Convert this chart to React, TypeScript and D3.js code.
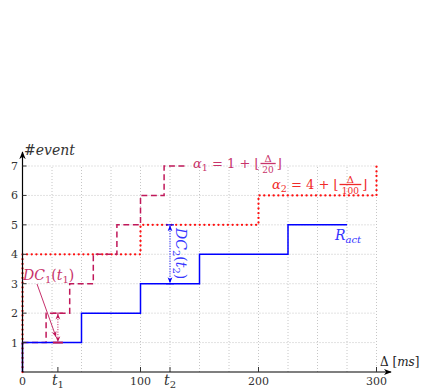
import React, { useRef, useEffect } from 'react';
import * as d3 from 'd3';

// step curves: [delta, events]
const ractPts = [[0, 0], [0, 1], [50, 2], [100, 3], [150, 4], [225, 5], [275, 5]];
const alpha1Pts = [[0, 1], [20, 2], [40, 3], [60, 4], [80, 5], [100, 6], [120, 7], [140, 7]];
const alpha2Pts = [[0, 0], [0, 4], [100, 5], [200, 6], [300, 7]];

const xGrid = [25, 50, 75, 100, 125, 150, 175, 200, 225, 250, 275, 300];
const yTicks = [1, 2, 3, 4, 5, 6, 7];
const xTicks = [
  { v: 0, label: '0', it: false, sub: '' },
  { v: 30, label: 't', it: true, sub: '1' },
  { v: 100, label: '100', it: false, sub: '' },
  { v: 125, label: 't', it: true, sub: '2' },
  { v: 200, label: '200', it: false, sub: '' },
  { v: 300, label: '300', it: false, sub: '' },
];
// distances marked on the chart: [delta, from, to]
const dc1 = [30, 1, 2];
const dc2 = [125, 3, 5];

const BLUE = '#0000ff';
const CRIMSON = '#c0185a';
const RED = '#ff1010';
const FONT = 'DejaVu Serif, serif';

function App() {
  const ref = useRef<SVGSVGElement>(null);

  useEffect(() => {
    const svg = d3.select(ref.current);
    svg.selectAll('*').remove();

    const x = d3.scaleLinear().domain([0, 300]).range([22.5, 376.5]);
    const y = d3.scaleLinear().domain([0, 7]).range([372, 166]);

    const defs = svg.append('defs');
    const mk = (id, color, size) => {
      defs.append('marker')
        .attr('id', id).attr('viewBox', '0 0 10 10')
        .attr('refX', 9).attr('refY', 5)
        .attr('markerWidth', size).attr('markerHeight', size)
        .attr('markerUnits', 'userSpaceOnUse')
        .attr('orient', 'auto-start-reverse')
        .append('path').attr('d', 'M0,1 L10,5 L0,9 L3,5 Z').attr('fill', color);
    };
    mk('arrK', '#000', 8);
    mk('arrC', CRIMSON, 6);
    mk('arrB', BLUE, 6);

    // grid
    const g = svg.append('g').attr('stroke', '#b8b8b8').attr('stroke-width', 0.8)
      .attr('stroke-dasharray', '1,2');
    g.selectAll('line.v').data(xGrid).join('line').attr('class', 'v')
      .attr('x1', d => x(d)).attr('x2', d => x(d)).attr('y1', y(0)).attr('y2', y(7));
    g.selectAll('line.h').data(yTicks).join('line').attr('class', 'h')
      .attr('x1', x(0)).attr('x2', x(300)).attr('y1', d => y(d)).attr('y2', d => y(d));

    const line = d3.line().x(d => x(d[0])).y(d => y(d[1])).curve(d3.curveStepAfter);

    svg.append('path').datum(alpha2Pts).attr('d', line).attr('fill', 'none')
      .attr('stroke', RED).attr('stroke-width', 2.3).attr('stroke-linecap', 'round')
      .attr('stroke-dasharray', '0.1,4.6');
    svg.append('path').datum(alpha1Pts).attr('d', line).attr('fill', 'none')
      .attr('stroke', CRIMSON).attr('stroke-width', 1.5).attr('stroke-dasharray', '6,3.5');
    svg.append('path').datum(ractPts).attr('d', line).attr('fill', 'none')
      .attr('stroke', BLUE).attr('stroke-width', 1.5);

    // axes
    svg.append('line').attr('x1', x(0)).attr('x2', x(0)).attr('y1', y(0)).attr('y2', 152)
      .attr('stroke', '#000').attr('stroke-width', 1.2).attr('marker-end', 'url(#arrK)');
    svg.append('line').attr('x1', x(0)).attr('x2', 391).attr('y1', y(0)).attr('y2', y(0))
      .attr('stroke', '#000').attr('stroke-width', 1.2).attr('marker-end', 'url(#arrK)');

    // y ticks
    svg.selectAll('line.yt').data(yTicks).join('line').attr('class', 'yt')
      .attr('x1', x(0)).attr('x2', x(0) + 4).attr('y1', d => y(d)).attr('y2', d => y(d))
      .attr('stroke', '#333').attr('stroke-width', 1);
    svg.selectAll('text.yl').data(yTicks).join('text').attr('class', 'yl')
      .attr('x', 18).attr('y', d => y(d) + 4).attr('text-anchor', 'end')
      .attr('font-family', FONT).attr('font-size', 11).attr('fill', '#333').text(d => d);

    // x ticks
    svg.selectAll('line.xt').data(xTicks.filter(d => d.v > 0)).join('line').attr('class', 'xt')
      .attr('x1', d => x(d.v)).attr('x2', d => x(d.v)).attr('y1', y(0)).attr('y2', y(0) - 5)
      .attr('stroke', '#333').attr('stroke-width', 1);
    const xl = svg.selectAll('text.xl').data(xTicks).join('text').attr('class', 'xl')
      .attr('x', d => x(d.v)).attr('y', 385).attr('text-anchor', 'middle')
      .attr('font-family', FONT).attr('font-size', d => d.it ? 14 : 11).attr('fill', '#333');
    xl.append('tspan').attr('font-style', d => d.it ? 'italic' : 'normal').text(d => d.label);
    xl.filter(d => d.sub).append('tspan').attr('font-size', 10).attr('dy', 3).text(d => d.sub);

    // axis labels
    svg.append('text').attr('x', 24).attr('y', 155).attr('font-family', FONT)
      .attr('font-size', 14).attr('font-style', 'italic').attr('fill', '#333').text('#event');
    const dl = svg.append('text').attr('x', 380).attr('y', 366).attr('font-family', FONT)
      .attr('font-size', 12).attr('fill', '#222');
    dl.append('tspan').text('Δ [');
    dl.append('tspan').attr('font-style', 'italic').text('ms');
    dl.append('tspan').text(']');

    // alpha labels: "α_i = k + ⌊Δ/d⌋"
    const alphaLabel = (x0, y0, idx, k, den, color) => {
      const t = svg.append('g').attr('fill', color).attr('font-family', FONT);
      const tx = t.append('text').attr('x', x0).attr('y', y0).attr('font-size', 13);
      tx.append('tspan').attr('font-style', 'italic').text('α');
      tx.append('tspan').attr('font-size', 9.5).attr('dy', 3).text(idx);
      tx.append('tspan').attr('dy', -3).text(` = ${k} + ⌊`);
      const w = (tx.node() as SVGTextElement).getComputedTextLength();
      const hw = den.length * 3.3 + 1;
      const fx = x0 + w + hw + 1;
      t.append('text').attr('x', fx).attr('y', y0 - 6).attr('text-anchor', 'middle')
        .attr('font-size', 10).text('Δ');
      t.append('line').attr('x1', fx - hw).attr('x2', fx + hw).attr('y1', y0 - 4.5).attr('y2', y0 - 4.5)
        .attr('stroke', color).attr('stroke-width', 1.3);
      t.append('text').attr('x', fx).attr('y', y0 + 4.5).attr('text-anchor', 'middle')
        .attr('font-size', 9).text(den);
      t.append('text').attr('x', fx + hw + 1).attr('y', y0).attr('font-size', 13).text('⌋');
    };
    alphaLabel(193, 168, '1', 1, '20', '#c8336a');
    alphaLabel(272, 189, '2', 4, '100', '#f02a2a');

    // R_act
    const rl = svg.append('text').attr('x', 335).attr('y', 240).attr('font-family', FONT)
      .attr('font-size', 14).attr('font-style', 'italic').attr('fill', '#3535ff');
    rl.append('tspan').text('R');
    rl.append('tspan').attr('font-size', 10).attr('dy', 3).text('act');

    // DC1 at t1
    const [t1, a1, b1] = dc1;
    svg.append('line').attr('x1', x(t1)).attr('x2', x(t1)).attr('y1', y(b1) + 1).attr('y2', y(a1) - 1)
      .attr('stroke', CRIMSON).attr('stroke-width', 1).attr('stroke-dasharray', '1,1.5')
      .attr('marker-start', 'url(#arrC)').attr('marker-end', 'url(#arrC)');
    svg.append('line').attr('x1', x(t1) - 5).attr('x2', x(t1) + 5).attr('y1', y(a1)).attr('y2', y(a1))
      .attr('stroke', CRIMSON).attr('stroke-width', 2);
    svg.append('line').attr('x1', x(t1) - 5).attr('x2', x(t1) + 5).attr('y1', y(b1)).attr('y2', y(b1))
      .attr('stroke', CRIMSON).attr('stroke-width', 1);
    const d1 = svg.append('text').attr('x', 23).attr('y', 280).attr('font-family', FONT)
      .attr('font-size', 14).attr('fill', '#c8336a');
    d1.append('tspan').attr('font-style', 'italic').text('DC');
    d1.append('tspan').attr('font-size', 10).attr('dy', 3).text('1');
    d1.append('tspan').attr('dy', -3).text('(');
    d1.append('tspan').attr('font-style', 'italic').text('t');
    d1.append('tspan').attr('font-size', 10).attr('dy', 3).text('1');
    d1.append('tspan').attr('dy', -3).text(')');
    svg.append('line').attr('x1', 37).attr('y1', 284).attr('x2', x(t1) - 2).attr('y2', y(a1) - 6)
      .attr('stroke', CRIMSON).attr('stroke-width', 0.9).attr('marker-end', 'url(#arrC)');

    // DC2 at t2
    const [t2, a2, b2] = dc2;
    svg.append('line').attr('x1', x(t2)).attr('x2', x(t2)).attr('y1', y(b2) + 1).attr('y2', y(a2) - 1)
      .attr('stroke', BLUE).attr('stroke-width', 1).attr('stroke-dasharray', '1,1.5')
      .attr('marker-start', 'url(#arrB)').attr('marker-end', 'url(#arrB)');
    [a2, b2].forEach(v => {
      svg.append('line').attr('x1', x(t2) - 4).attr('x2', x(t2) + 4).attr('y1', y(v)).attr('y2', y(v))
        .attr('stroke', BLUE).attr('stroke-width', 1.2);
    });
    const d2 = svg.append('text').attr('transform', `translate(${x(t2) + 6},228) rotate(90)`)
      .attr('font-family', FONT).attr('font-size', 14).attr('fill', '#3535ff');
    d2.append('tspan').attr('font-style', 'italic').text('DC');
    d2.append('tspan').attr('font-size', 10).attr('dy', 3).text('2');
    d2.append('tspan').attr('dy', -3).text('(');
    d2.append('tspan').attr('font-style', 'italic').text('t');
    d2.append('tspan').attr('font-size', 10).attr('dy', 3).text('2');
    d2.append('tspan').attr('dy', -3).text(')');
  }, []);

  return <svg ref={ref} width={421} height={392} style={{ display: 'block', position: 'absolute', left: 0, top: 0 }} />;
}

export default App;
